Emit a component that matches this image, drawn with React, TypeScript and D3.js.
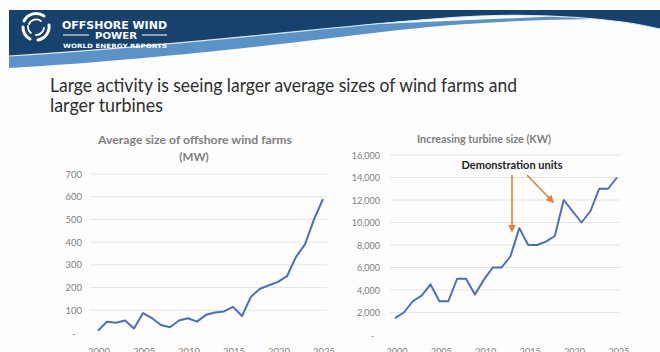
import React from "react";
import * as d3 from "d3";

const years: number[] = [2000, 2001, 2002, 2003, 2004, 2005, 2006, 2007, 2008, 2009, 2010, 2011, 2012, 2013, 2014, 2015, 2016, 2017, 2018, 2019, 2020, 2021, 2022, 2023, 2024, 2025];
const farmSizeMW: number[] = [10, 50, 45, 55, 20, 88, 65, 35, 25, 55, 65, 50, 80, 90, 95, 115, 75, 160, 195, 210, 225, 250, 335, 390, 500, 590];
const turbineSizeKW: number[] = [1500, 2000, 3000, 3500, 4500, 3000, 3000, 5000, 5000, 3600, 4900, 6000, 6000, 7000, 9500, 8000, 8000, 8300, 8800, 12000, 11000, 10000, 11000, 13000, 13000, 14000];
const xTicks: number[] = [2000, 2005, 2010, 2015, 2020, 2025];
const leftYTicks: number[] = [0, 100, 200, 300, 400, 500, 600, 700];
const rightYTicks: number[] = [0, 2000, 4000, 6000, 8000, 10000, 12000, 14000, 16000];

const titleLine1 = "Large activity is seeing larger average sizes of wind farms and";
const titleLine2 = "larger turbines";
const leftTitle1 = "Average size of offshore wind farms";
const leftTitle2 = "(MW)";
const rightTitle = "Increasing turbine size (KW)";
const annotation = "Demonstration units";

const FONT = "Lato, 'Open Sans', sans-serif";
const AXIS_COLOR = "#7f7f7f";
const GRID = "#e4e4e4";
const LINE = "#4a6fbd";
const ORANGE = "#ed7d31";

export default function App() {
  const lx = d3.scaleLinear().domain([2000, 2025]).range([98, 323]);
  const ly = d3.scaleLinear().domain([0, 700]).range([333, 174]);
  const rx = d3.scaleLinear().domain([2000, 2025]).range([395, 617]);
  const ry = d3.scaleLinear().domain([0, 16000]).range([335, 155]);

  const leftLine = d3
    .line<number>()
    .x((_, i) => lx(years[i]))
    .y((d) => ly(d))(farmSizeMW) as string;
  const rightLine = d3
    .line<number>()
    .x((_, i) => rx(years[i]))
    .y((d) => ry(d))(turbineSizeKW) as string;

  const fmt = d3.format(",");

  return (
    <svg
      width={660}
      height={352}
      style={{ position: "absolute", left: 0, top: 0, background: "#fff" }}
    >
      <defs>
        <marker id="arr" viewBox="0 0 10 10" refX="8" refY="5" markerWidth="5" markerHeight="5" orient="auto">
          <path d="M0,0 L10,5 L0,10 Z" fill={ORANGE} />
        </marker>
      </defs>
      <rect x={0} y={0} width={660} height={352} fill="#fdfdfd" />

      {/* Banner */}
      <path d="M9,40 L610,14 L610,19 C 520,19 440,25 390,31 C 300,42 160,59 9,68 Z" fill="#5b93c9" />
      <path d="M9,10 H660 V29 C 610,17 540,14 480,16 C 380,20 220,43 9,56 Z" fill="#17426d" />
      <path d="M660,29 C 610,17 540,14 480,16 C 380,20 220,43 9,56" fill="none" stroke="#dfeaf5" strokeWidth={1.2} />

      {/* Logo */}
      <g transform="translate(36,27)" fill="none" stroke="#fff" strokeLinecap="round">
        <path d="M -12,-6 A 13.5 13.5 0 0 1 8,-11" strokeWidth={3} />
        <path d="M 13,-2 A 13.5 13.5 0 0 1 2,13" strokeWidth={3} />
        <path d="M -6,12 A 13.5 13.5 0 0 1 -13,0" strokeWidth={3} />
        <path d="M -7,-3 A 8 8 0 0 1 5,-6" strokeWidth={1.8} />
        <path d="M 8,1 A 8 8 0 0 1 0,8" strokeWidth={1.8} />
        <path d="M -5,6 A 8 8 0 0 1 -8,-1" strokeWidth={1.8} />
      </g>
      <text x={62} y={28.5} fill="#fff" fontFamily="'DejaVu Sans', sans-serif" fontWeight={700} fontSize={10.5} textLength={105} lengthAdjust="spacingAndGlyphs">
        OFFSHORE WIND
      </text>
      <line x1={63} x2={89} y1={35} y2={35} stroke="#fff" strokeWidth={1} />
      <line x1={142} x2={167} y1={35} y2={35} stroke="#fff" strokeWidth={1} />
      <text x={95} y={38.5} fill="#fff" fontFamily="'DejaVu Sans', sans-serif" fontWeight={700} fontSize={9.5} textLength={42} lengthAdjust="spacingAndGlyphs">
        POWER
      </text>
      <text x={63} y={48} fill="#fff" fontFamily="'DejaVu Sans', sans-serif" fontWeight={700} fontSize={6} textLength={104} lengthAdjust="spacingAndGlyphs">
        WORLD ENERGY REPORTS
      </text>

      {/* Main title */}
      <text x={50} y={92} fill="#2e2e2e" fontFamily={FONT} fontSize={19} textLength={467} lengthAdjust="spacingAndGlyphs">
        {titleLine1}
      </text>
      <text x={50} y={111.5} fill="#2e2e2e" fontFamily={FONT} fontSize={19} textLength={113} lengthAdjust="spacingAndGlyphs">
        {titleLine2}
      </text>

      {/* Left chart */}
      <text x={195} y={144} textAnchor="middle" fill={AXIS_COLOR} fontFamily={FONT} fontWeight={700} fontSize={11.5} textLength={194} lengthAdjust="spacingAndGlyphs">
        {leftTitle1}
      </text>
      <text x={194} y={161} textAnchor="middle" fill={AXIS_COLOR} fontFamily={FONT} fontWeight={700} fontSize={11.5}>
        {leftTitle2}
      </text>
      {leftYTicks.map((t) => (
        <g key={"lg" + t}>
          {t > 0 && <line x1={90} x2={327} y1={ly(t)} y2={ly(t)} stroke={GRID} strokeWidth={1} />}
          <text
            x={t === 0 ? 76 : 82}
            y={ly(t) + 3.5}
            textAnchor="end"
            fill={AXIS_COLOR}
            fontFamily={FONT}
            fontSize={9.5}
          >
            {t === 0 ? "-" : fmt(t)}
          </text>
        </g>
      ))}
      {xTicks.map((t) => (
        <text key={"lx" + t} x={lx(t) + 1} y={355} textAnchor="middle" fill={AXIS_COLOR} fontFamily={FONT} fontSize={9.5}>
          {t}
        </text>
      ))}
      <path d={leftLine} fill="none" stroke={LINE} strokeWidth={2} strokeLinejoin="round" />

      {/* Right chart */}
      <text x={484} y={143} textAnchor="middle" fill={AXIS_COLOR} fontFamily={FONT} fontWeight={700} fontSize={10.5} textLength={134} lengthAdjust="spacingAndGlyphs">
        {rightTitle}
      </text>
      {rightYTicks.map((t) => (
        <g key={"rg" + t}>
          {t > 0 && <line x1={390} x2={620} y1={ry(t)} y2={ry(t)} stroke={GRID} strokeWidth={1} />}
          <text
            x={t === 0 ? 374 : 380}
            y={ry(t) + 3.5}
            textAnchor="end"
            fill={AXIS_COLOR}
            fontFamily={FONT}
            fontSize={9}
          >
            {t === 0 ? "-" : fmt(t)}
          </text>
        </g>
      ))}
      {xTicks.map((t) => (
        <text key={"rx" + t} x={rx(t) + 2} y={355} textAnchor="middle" fill={AXIS_COLOR} fontFamily={FONT} fontSize={9}>
          {t}
        </text>
      ))}
      <path d={rightLine} fill="none" stroke={LINE} strokeWidth={2} strokeLinejoin="round" />

      {/* Annotation */}
      <text x={512} y={169} textAnchor="middle" fill="#222" fontFamily={FONT} fontWeight={700} fontSize={12} textLength={101} lengthAdjust="spacingAndGlyphs">
        {annotation}
      </text>
      <line x1={512} y1={175} x2={512} y2={231} stroke={ORANGE} strokeWidth={1.6} markerEnd="url(#arr)" />
      <line x1={527} y1={175} x2={553} y2={202} stroke={ORANGE} strokeWidth={1.6} markerEnd="url(#arr)" />
    </svg>
  );
}
